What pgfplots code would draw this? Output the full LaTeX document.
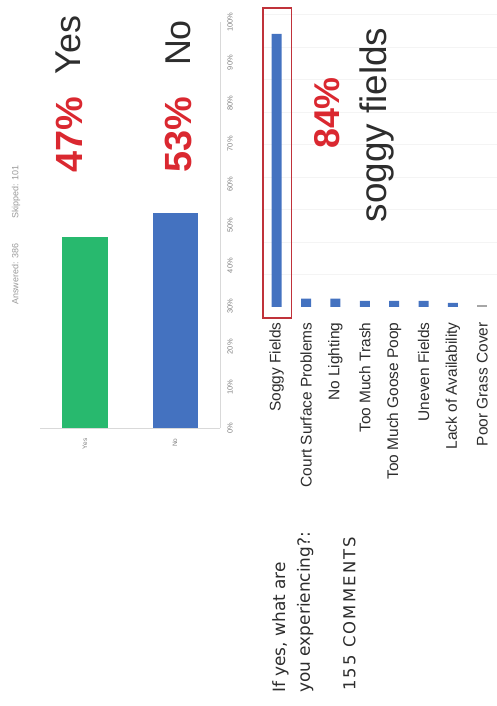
\documentclass[border=0pt]{standalone}
\usepackage{pgfplots}
\pgfplotsset{compat=1.18}
\usepackage{fontspec}
\setmainfont{Liberation Sans}
\newfontfamily\widefont{DejaVu Sans}
\newfontfamily\trackedfont[LetterSpace=13]{DejaVu Sans}

\definecolor{sgreen}{RGB}{40,185,110}
\definecolor{sblue}{RGB}{68,114,192}
\definecolor{sred}{RGB}{218,40,48}
\definecolor{boxred}{RGB}{192,50,58}
\definecolor{txt}{RGB}{45,45,45}

\begin{document}
\begin{tikzpicture}
\useasboundingbox (0,0) rectangle (497bp,706bp);

% left panel: yes / no
\begin{axis}[
  at={(40bp,278bp)}, anchor=south west,
  scale only axis, width=180bp, height=406bp,
  xmin=0, xmax=2, ymin=0, ymax=100,
  axis x line*=bottom, axis y line*=right,
  axis line style={draw=gray!30, line width=0.8pt, -},
  major tick length=0,
  xtick={0.5,1.5}, xticklabels={Yes,No},
  xticklabel style={rotate=90, anchor=east, font=\fontsize{6.5}{7}\selectfont, text=gray},
  xticklabel shift=7bp,
  ytick={0,10,...,100},
  yticklabels={0\%,10\%,20\%,30\%,40\%,50\%,60\%,70\%,80\%,90\%,100\%},
  yticklabel style={rotate=90, anchor=north, font=\fontsize{7.5}{8}\selectfont, text=gray},
  yticklabel shift=4bp,
  ybar, bar width=45bp,
  clip=false,
]
\addplot[fill=sgreen, draw=none, bar shift=0pt] coordinates {(0.5,47)};
\addplot[fill=sblue, draw=none, bar shift=0pt] coordinates {(1.5,53)};
\end{axis}

% right panel: problems
\begin{axis}[
  at={(262bp,399bp)}, anchor=south west,
  scale only axis, width=235bp, height=305.5bp,
  xmin=-0.5, xmax=7.5, ymin=0, ymax=94,
  axis line style={draw=none},
  major tick length=0,
  xtick={0,...,7},
  xticklabels={Soggy Fields,Court Surface Problems,No Lighting,Too Much Trash,Too Much Goose Poop,Uneven Fields,Lack of Availability,Poor Grass Cover},
  xticklabel style={rotate=90, anchor=east, font=\fontsize{15.5}{16}\selectfont, text=txt},
  xticklabel shift=12bp,
  ytick={10,20,...,90}, yticklabels={},
  ymajorgrids, grid style={gray!9, line width=0.6pt},
  ybar, bar width=10bp,
  clip=false,
]
\addplot[fill=sblue, draw=none, bar shift=0pt] coordinates {
  (0,84) (1,2.6) (2,2.6) (3,1.9) (4,1.9) (5,1.9) (6,1.3)};
\addplot[fill=gray!70, draw=none, bar shift=0pt] coordinates {(7,0.5)};
\draw[boxred, line width=1.6bp] (axis cs:-0.47,-3.4) rectangle (axis cs:0.51,92);
\end{axis}

% headings and callouts
\node[rotate=90, font=\fontsize{9}{10}\selectfont, text=gray!80] at (16bp,471bp)
  {Answered: 386\hspace{2.8em}Skipped: 101};
\node[rotate=90, font=\fontsize{36}{40}\selectfont, text=txt] at (68bp,661bp) {Yes};
\node[rotate=90, font=\fontsize{38}{40}\selectfont\bfseries, text=sred] at (69bp,571bp) {47\%};
\node[rotate=90, font=\fontsize{36}{40}\selectfont, text=txt] at (178bp,663bp) {No};
\node[rotate=90, font=\fontsize{38}{40}\selectfont\bfseries, text=sred] at (178bp,571bp) {53\%};
\node[rotate=90, font=\fontsize{36}{40}\selectfont\bfseries, text=sred] at (327bp,593bp) {84\%};
\node[rotate=90, font=\fontsize{37}{40}\selectfont, text=txt] at (377bp,581bp) {soggy fields};

\node[rotate=90, anchor=north west, inner sep=0pt, align=left, text=txt,
  font=\widefont\fontsize{17}{25}\selectfont] at (272bp,13bp)
  {If yes, what are\\you experiencing?:};
\node[rotate=90, anchor=north west, inner sep=0pt, text=txt,
  font=\trackedfont\fontsize{16.5}{25}\selectfont] at (343bp,15bp) {155 COMMENTS};
\end{tikzpicture}
\end{document}
